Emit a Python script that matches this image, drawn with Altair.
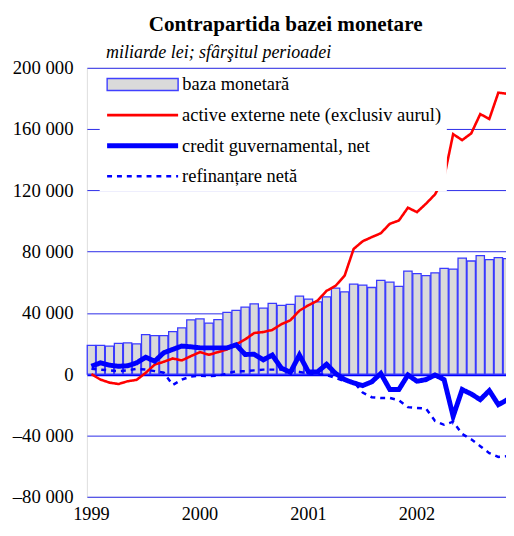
import altair as alt
import pandas as pd

# monthly observations, Jan 1999 .. Nov 2002 (thousand bn lei; scaled below)
months = list(range(47))
series_names = [
    "baza monetară",
    "active externe nete (exclusiv aurul)",
    "credit guvernamental, net",
    "refinanțare netă",
]
baza = [18.8, 18.8, 18.4, 20.2, 20.5, 19.8, 25.9, 25.2, 25.2, 27.8, 30.2, 35.4,
        36.1, 33.4, 35.7, 40.3, 41.6, 43.8, 45.9, 43.1, 46.2, 45.0, 45.6, 51.0,
        49.0, 47.2, 50.5, 56.2, 53.8, 58.8, 58.2, 56.6, 61.2, 60.1, 57.3, 67.3,
        65.6, 64.3, 66.2, 69.1, 68.6, 75.8, 73.9, 77.4, 74.8, 76.1, 75.4]
active = [0.0, -3.5, -5.5, -6.4, -4.6, -3.7, 0.9, 6.3, 8.1, 10.3, 9.0, 11.8,
          14.4, 12.7, 14.4, 16.2, 19.5, 22.7, 26.9, 27.5, 28.9, 32.6, 35.2, 41.5,
          45.0, 48.0, 54.4, 57.7, 64.3, 81.8, 86.8, 89.5, 92.0, 98.2, 100.3, 108.7,
          105.8, 111.3, 117.4, 128.3, 156.7, 152.8, 157.2, 169.8, 166.6, 183.8, 183.0]
credit = [5.2, 7.4, 5.9, 5.2, 5.5, 7.4, 11.1, 8.5, 14.0, 16.2, 18.4, 17.9,
          17.2, 17.2, 17.2, 17.2, 19.2, 12.9, 13.0, 9.4, 12.5, 4.0, 1.2, 12.5,
          1.5, 1.5, 6.5, 0.5, -3.5, -5.7, -7.4, -5.0, 0.5, -10.0, -10.0, -0.5,
          -4.6, -3.5, -0.5, -3.5, -27.5, -10.0, -12.9, -16.6, -10.7, -19.9, -16.6]
refin = [3.5, 3.0, 2.5, 2.0, 2.5, 3.5, 3.0, 2.0, 1.0, -7.0, -3.5, -1.5,
         -1.0, -1.2, -1.0, 0.5, 2.0, 2.0, 2.5, 3.0, 3.0, 3.0, 2.5, 1.5,
         0.5, 0.0, -0.5, -2.5, -4.5, -5.0, -12.0, -15.0, -15.5, -15.5, -17.0, -21.5,
         -22.0, -22.5, -30.5, -33.0, -31.0, -39.0, -42.5, -47.0, -51.5, -54.0, -53.5]
first_year = 1999
y_ticks = [-80000, -40000, 0, 40000, 80000, 120000, 160000, 200000]

rows = []
for name, vals in zip(series_names, [baza, active, credit, refin]):
    for m, v in zip(months, vals):
        rows.append({"t": m, "series": name, "value": v * 1000})
df = pd.DataFrame(rows)

FONT = "Liberation Serif"
line_names = series_names[1:]

x_enc = alt.X(
    "t:O",
    scale=alt.Scale(paddingInner=0.08, paddingOuter=0.04),
    axis=alt.Axis(
        title=None, ticks=False, domain=False, grid=False, labelAngle=0,
        labelExpr=f"datum.value % 12 == 0 ? '' + ({first_year} + datum.value / 12) : ''",
        labelFont=FONT, labelFontSize=18.5, labelColor="black", labelPadding=8,
    ),
)
y_enc = alt.Y(
    "value:Q",
    scale=alt.Scale(domain=[-80000, 200000], nice=False, zero=False),
    axis=alt.Axis(
        values=y_ticks, grid=True, domain=False, ticks=False,
        labelExpr="(datum.value < 0 ? '–' : '') + replace(format(abs(datum.value), ','), ',', ' ')",
        labelFont=FONT, labelFontSize=19, labelColor="black", labelPadding=14,
        gridColor={"condition": {"test": "datum.value === 0", "value": "#0000ff"}, "value": "#2a2ae8"},
        gridWidth={"condition": {"test": "datum.value === 0", "value": 2.5}, "value": 1},
        title="miliarde lei; sfârşitul perioadei",
        titleAngle=0, titleAlign="left", titleBaseline="alphabetic",
        titleX=19, titleY=-10, titleFont=FONT, titleFontSize=18.2,
        titleFontStyle="italic", titleFontWeight="normal", titleColor="black",
    ),
)

legend_common = dict(
    title=None, orient="none", fillColor="white", padding=5,
    symbolSize=5184, clipHeight=20, rowPadding=11, labelLimit=400,
    labelFont=FONT, labelFontSize=18.7, labelColor="black",
)

fill_enc = alt.Fill(
    "series:N",
    scale=alt.Scale(domain=series_names[:1], range=["#dadada"]),
    legend=alt.Legend(
        legendX=14.5, legendY=2, labelOffset=3.25,
        symbolType="M-1,-0.17L1,-0.17L1,0.17L-1,0.17Z",
        symbolStrokeColor="#4040ff", symbolStrokeWidth=1.5, **legend_common,
    ),
)
lines_legend = dict(legendX=13, legendY=33, labelOffset=1.5, symbolType="M-1,0L1,0", **legend_common)
stroke_enc = alt.Stroke(
    "series:N",
    scale=alt.Scale(domain=line_names, range=["#ff0000", "#0000ff", "#0000ff"]),
    legend=alt.Legend(**lines_legend),
)
dash_enc = alt.StrokeDash(
    "series:N",
    scale=alt.Scale(domain=line_names, range=[[1, 0], [1, 0], [5, 5]]),
    legend=alt.Legend(**lines_legend),
)
width_enc = alt.StrokeWidth(
    "series:N",
    scale=alt.Scale(type="ordinal", domain=line_names, range=[2.6, 5, 2.5]),
    legend=alt.Legend(**lines_legend),
)

base = alt.Chart(df).encode(x=x_enc, y=y_enc)

bars = base.transform_filter(alt.datum.series == series_names[0]).mark_bar(
    stroke="#3a3aff", strokeWidth=1.3
).encode(fill=fill_enc)

line_base = base.mark_line().encode(stroke=stroke_enc, strokeDash=dash_enc, strokeWidth=width_enc)
red = line_base.transform_filter(alt.datum.series == series_names[1])
dotted = line_base.transform_filter(alt.datum.series == series_names[3])
thick = line_base.transform_filter(alt.datum.series == series_names[2])

chart = (
    alt.layer(bars, red, dotted, thick)
    .properties(
        width=505, height=519,
        autosize=alt.AutoSizeParams(type="fit", contains="padding"),
        title=alt.TitleParams(
            "Contrapartida bazei monetare", font=FONT, fontSize=21.4, fontWeight="bold",
            color="black", anchor="middle", dx=-14, offset=8,
        ),
        padding={"left": 4, "top": 2, "right": -11, "bottom": 0},
    )
    .configure_view(stroke=None)
    .configure(background="white")
)

chart.save("out.html", embed_options={"renderer": "svg", "actions": False})
